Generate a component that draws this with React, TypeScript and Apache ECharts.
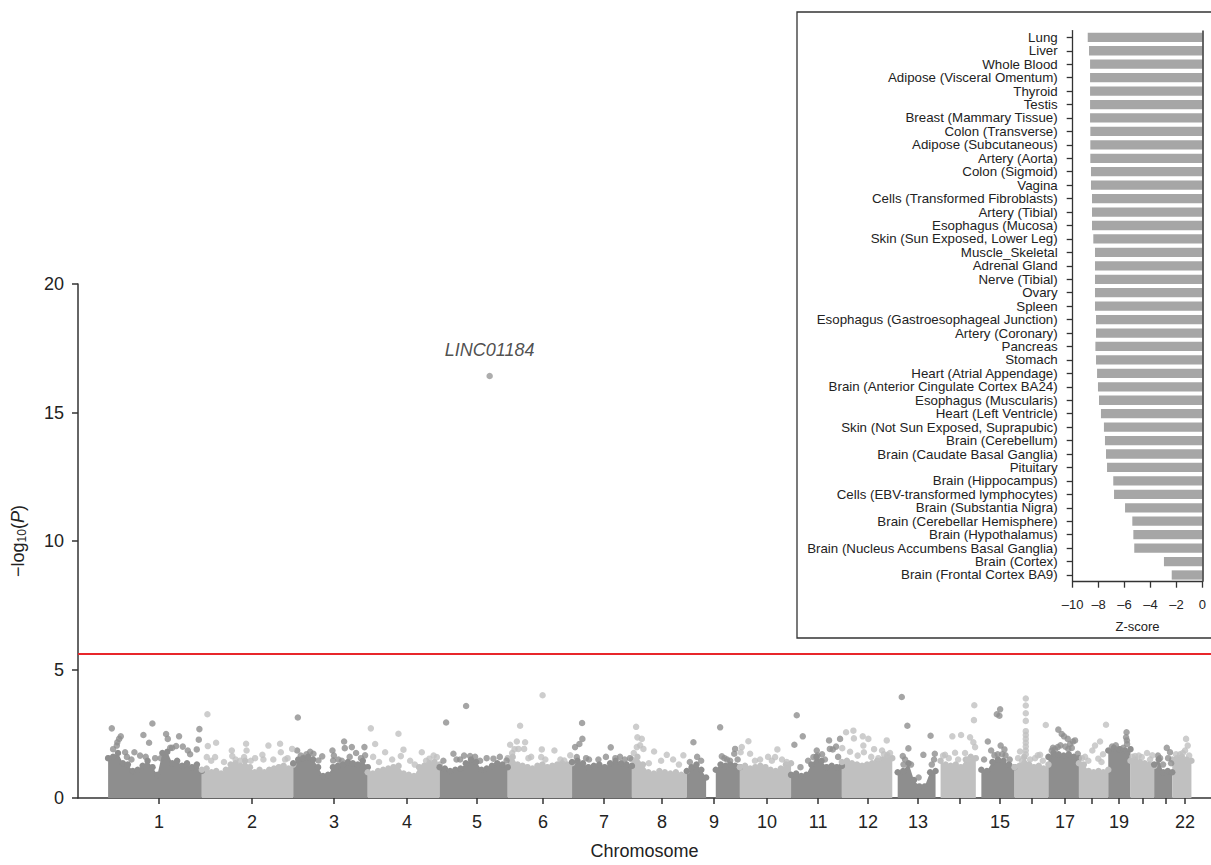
import React, { useEffect, useRef } from 'react';
import * as echarts from 'echarts';

// Chromosome lengths (Mb, hg19, rounded)
const chromLengths = [249, 243, 198, 191, 181, 171, 159, 146, 141, 136, 135, 134, 115, 107, 103, 90, 81, 78, 59, 63, 48, 51];
// Tick positions along the cumulative genome axis (Mb)
const chromTickPositions = [135.5, 382.7, 600.6, 794.6, 980.6, 1156, 1318, 1472.2, 1610.4, 1751.3, 1886.8, 2019.7, 2152.5, 2264.2, 2370.4, 2455.5, 2543.2, 2615, 2686.7, 2750.5, 2811.6, 2862.1];
const chromTickLabels = ['1', '2', '3', '4', '5', '6', '7', '8', '9', '10', '11', '12', '13', '14', '15', '16', '17', '18', '19', '20', '21', '22'];
const labelledChroms = ['1', '2', '3', '4', '5', '6', '7', '8', '9', '10', '11', '12', '13', '15', '17', '19', '22'];

// Upper edge of the dense cloud of SNPs per chromosome (-log10 P), equally spaced along each chromosome
const massTop: (number | null)[][] = [
  [1.55, 1.6, 1.75, 1.35, 1.3, 1.05, 1.1, 1.25, 1.45, 1.2, 0.9, 1.75, 1.8, 1.35, 1.45, 1.25, 1.35, 1.2, 1.3, 1.05],
  [1.1, 1.15, 1.0, 1.05, 0.95, 1.1, 1.3, 1.35, 1.25, 1.45, 1.2, 1.0, 1.1, 1.0, 1.1, 1.15, 1.2, 1.25, 1.15, 1.3],
  [1.35, 1.5, 1.55, 1.6, 1.5, 1.2, 0.85, 0.9, 1.2, 1.25, 1.3, 1.4, 1.35, 1.3, 1.45, 1.2],
  [1.0, 0.95, 1.05, 1.1, 1.15, 1.2, 1.25, 0.95, 0.9, 0.85, 1.2, 1.25, 1.35, 1.4, 1.3],
  [1.2, 1.15, 1.05, 1.1, 1.15, 1.35, 1.5, 1.4, 1.1, 1.15, 1.25, 1.35, 1.3, 1.2],
  [1.55, 1.6, 1.3, 1.25, 1.2, 1.15, 1.25, 1.3, 1.2, 1.25, 1.3, 1.35, 1.3, 1.35],
  [1.4, 1.45, 1.35, 1.2, 1.25, 1.3, 1.2, 1.35, 1.45, 1.35, 1.3, 1.25],
  [1.5, 1.6, 1.3, 1.0, 0.95, 1.05, 1.0, 0.95, 1.0, 0.9, 1.05],
  [1.05, 1.2, 1.3, 1.1, 0.8, null, 1.1, 1.3, 1.25, 1.3, 1.25, 1.2],
  [1.2, 1.25, 1.15, 1.2, 1.25, 1.2, 1.1, 1.05, 1.15, 1.3, 1.35],
  [0.9, 0.95, 0.85, 0.9, 1.3, 1.6, 1.45, 1.2, 1.25, 1.2, 1.25],
  [1.4, 1.45, 1.35, 1.3, 1.25, 1.3, 1.35, 1.45, 1.5, 1.6, 1.55],
  [null, 1.0, 1.05, 1.35, 0.7, 0.45, 0.45, 1.0, 1.05],
  [null, 1.45, 1.3, 1.25, 1.3, 1.2, 1.5, 1.6, 1.55],
  [null, 1.1, 1.05, 1.4, 1.5, 1.45, 1.3, 1.2],
  [1.2, 1.25, 1.6, 1.3, 1.2, 1.25, 1.15, 1.3],
  [1.6, 1.75, 1.7, 1.65, 1.7, 1.6, 1.55],
  [1.35, 1.3, 1.05, 1.0, 1.05, 1.0, 1.1],
  [1.85, 1.95, 1.9, 1.85, 1.9],
  [1.45, 1.5, 1.4, 1.35, 1.3, 1.25],
  [1.3, 1.5, 1.0, 1.05, 1.0],
  [1.5, 1.55, 1.6, 1.5, 1.45],
];

// Individual SNPs standing out above the cloud: [chromosome, position within chromosome (Mb), -log10 P]
const peakPoints: [number, number, number][] = [
  [1, 9.8, 2.71], [1, 33.7, 2.4], [1, 23.1, 2.04], [1, 29.2, 2.3], [1, 24.5, 2.17], [1, 13.3, 1.9], [1, 45.2, 1.78], [1, 69.9, 1.78],
  [1, 93.8, 2.45], [1, 108.9, 2.15], [1, 117.7, 2.9], [1, 85, 1.65], [1, 125, 1.55], [1, 154.1, 2.49], [1, 158.6, 2.3], [1, 188.6, 2.4],
  [1, 180.7, 2.02], [1, 198.5, 2.0], [1, 211.8, 1.85], [1, 242.6, 2.68], [1, 241, 2.27], [1, 235.6, 1.89], [1, 170, 1.95], [1, 218, 1.7],
  [1, 50, 1.6], [1, 62, 1.5], [1, 100, 1.6], [1, 140, 1.55], [1, 165, 1.95],
  [2, 14.9, 3.26], [2, 16, 2.02], [2, 38, 2.15], [2, 13.3, 1.59], [2, 35.3, 1.59], [2, 79.7, 1.85], [2, 81, 1.63], [2, 117.7, 2.11],
  [2, 119, 1.85], [2, 112.4, 1.59], [2, 141.6, 1.55], [2, 161, 1.68], [2, 163.7, 1.5], [2, 177, 2.04], [2, 208, 2.11], [2, 210, 1.78],
  [2, 221.3, 1.5], [2, 240, 1.91], [2, 101.8, 1.45], [2, 59, 1.4], [2, 25, 1.45], [2, 90, 1.5], [2, 130, 1.45], [2, 190, 1.5], [2, 228, 1.55],
  [3, 12.2, 3.13], [3, 10.4, 1.85], [3, 53.7, 1.72], [3, 67, 1.46], [3, 104.2, 1.85], [3, 106, 1.46], [3, 135.2, 2.2], [3, 137, 1.94],
  [3, 155.7, 1.98], [3, 189.2, 1.98], [3, 191, 1.66], [3, 129.1, 1.45], [3, 108, 1.65], [3, 45, 1.8], [3, 77, 1.62], [3, 167, 1.75],
  [3, 20, 1.65], [3, 35, 1.7], [3, 120, 1.5], [3, 150, 1.6], [3, 180, 1.55],
  [4, 8.2, 2.71], [4, 19.7, 2.1], [4, 46.2, 1.78], [4, 81.6, 2.5], [4, 94.9, 1.88], [4, 87.9, 1.63], [4, 143.7, 1.78], [4, 163.9, 1.53],
  [4, 183.6, 1.59], [4, 14.3, 1.6], [4, 112.7, 1.45], [4, 64.8, 1.5], [4, 30, 1.4], [4, 125, 1.3], [4, 155, 1.45], [4, 175, 1.65],
  [5, 17.3, 2.94], [5, 70.4, 3.58], [5, 36.7, 1.72], [5, 81, 1.63], [5, 143, 1.53], [5, 178, 1.46], [5, 54.5, 1.5], [5, 107.6, 1.45], [5, 94.3, 1.6],
  [5, 10, 1.45], [5, 45, 1.5], [5, 65, 1.65], [5, 125, 1.55], [5, 160, 1.6],
  [6, 92.7, 4.0], [6, 32.9, 2.81], [6, 6.4, 2.07], [6, 24.2, 2.2], [6, 46.2, 2.17], [6, 43.6, 1.91], [6, 28.4, 1.91], [6, 90.6, 1.89],
  [6, 89, 1.59], [6, 124.1, 1.85], [6, 166.1, 1.66], [6, 150.2, 1.46], [6, 11.7, 1.75], [6, 62.2, 1.6], [6, 18, 1.9], [6, 55, 1.55],
  [6, 100, 1.5], [6, 140, 1.5],
  [7, 26.6, 2.92], [7, 27.4, 2.3], [7, 19.4, 2.1], [7, 8, 1.98], [7, 12.5, 1.59], [7, 37.2, 1.55], [7, 102.8, 1.97], [7, 154, 1.55], [7, 127.5, 1.6],
  [7, 45, 1.5], [7, 70, 1.5], [7, 90, 1.6], [7, 115, 1.55], [7, 140, 1.5],
  [8, 11.2, 2.77], [8, 14.6, 2.36], [8, 26.3, 2.3], [8, 13, 1.98], [8, 30.6, 1.91], [8, 59, 1.81], [8, 92.7, 1.68], [8, 136.8, 1.66],
  [8, 21.8, 2.05], [8, 77.6, 1.45], [8, 109.5, 1.5], [8, 5, 1.75], [8, 45, 1.35], [8, 125, 1.3],
  [9, 17.5, 2.17], [9, 38, 1.45], [9, 88.5, 2.75], [9, 93, 1.62], [9, 128.3, 1.91], [9, 126, 1.72], [9, 27.4, 1.6], [9, 107, 1.5],
  [9, 8, 1.4], [9, 100, 1.55], [9, 115, 1.45], [9, 135, 1.5],
  [10, 22.6, 2.21], [10, 5, 1.98], [10, 2, 1.78], [10, 27.1, 1.72], [10, 99.6, 1.89], [10, 93.5, 1.59], [10, 124.6, 1.4], [10, 53.7, 1.5], [10, 74.9, 1.6],
  [10, 40, 1.45], [10, 85, 1.45], [10, 112, 1.5],
  [11, 15.1, 3.22], [11, 31.1, 2.4], [11, 8.8, 2.07], [11, 59.3, 1.59], [11, 68.3, 1.85], [11, 101, 2.24], [11, 103, 1.91], [11, 110.8, 1.89],
  [11, 130.2, 2.3], [11, 45.2, 1.45], [11, 82.4, 1.7], [11, 119.6, 2.0], [11, 25, 1.2], [11, 70, 1.65], [11, 90, 1.5], [11, 125, 1.6],
  [12, 11.2, 2.56], [12, 30.6, 2.62], [12, 32, 2.32], [12, 1, 1.94], [12, 55.5, 2.4], [12, 57.1, 2.04], [12, 58.5, 1.78], [12, 70.4, 2.3],
  [12, 119.3, 2.24], [12, 120.9, 1.68], [12, 97, 1.55], [12, 21.8, 1.8], [12, 85.6, 1.9], [12, 106.8, 1.85], [12, 42, 1.65], [12, 78, 1.6],
  [12, 112, 1.7], [12, 128, 1.75],
  [13, 25.2, 3.93], [13, 40.1, 2.81], [13, 42.8, 1.93], [13, 27.9, 1.63], [13, 82.6, 1.68], [13, 101.8, 2.42], [13, 113, 1.72], [13, 111, 1.5],
  [13, 34, 1.5], [13, 49.7, 1.3], [13, 30, 1.3], [13, 105, 1.3], [13, 70, 0.8],
  [14, 44.6, 2.4], [14, 67.8, 2.45], [14, 25.2, 1.68], [14, 51.8, 1.76], [14, 91.7, 2.36], [14, 100.4, 2.17], [14, 105, 1.98], [14, 103, 3.61],
  [14, 102, 3.03], [14, 78.4, 1.75], [14, 20, 1.65], [14, 35, 1.55], [14, 60, 1.5], [14, 85, 1.5],
  [15, 31.9, 2.2], [15, 55.8, 3.26], [15, 64.6, 3.45], [15, 62.7, 3.2], [15, 66, 2.04], [15, 76, 1.89], [15, 79, 1.66], [15, 49.4, 1.66],
  [15, 40.7, 1.85], [15, 22, 1.5], [15, 58, 1.7], [15, 70, 1.7], [15, 90, 1.5],
  [16, 29.8, 3.87], [16, 29.8, 3.6], [16, 29.8, 3.3], [16, 29.8, 3.0], [16, 29.8, 2.6], [16, 29.8, 2.45], [16, 29.8, 2.3], [16, 29.8, 2.15],
  [16, 29.8, 2.0], [16, 29.8, 1.85], [16, 29.8, 1.7], [16, 14.6, 1.81], [16, 67.8, 1.68], [16, 54.5, 1.55], [16, 82.9, 2.84], [16, 61.6, 1.66],
  [16, 41.2, 1.5], [16, 9.3, 1.55], [16, 20, 1.45], [16, 75, 1.45],
  [17, 26.3, 2.66], [17, 35.3, 2.49], [17, 51.3, 2.3], [17, 57.4, 2.1], [17, 70.7, 2.24], [17, 52.9, 1.91], [17, 8.8, 1.85], [17, 24.7, 1.98],
  [17, 77.9, 1.72], [17, 41.4, 2.4], [17, 65.4, 2.2], [17, 17.5, 1.9], [17, 12, 1.95], [17, 32, 2.05], [17, 45, 2.0], [17, 62, 1.95],
  [18, 72, 2.85], [18, 56.1, 2.2], [18, 42.8, 2.04], [18, 35.6, 1.85], [18, 51.5, 1.53], [18, 16.2, 1.6], [18, 64, 1.7],
  [18, 8, 1.55], [18, 25, 1.45], [18, 60, 1.4],
  [19, 48.6, 2.56], [19, 47.3, 2.36], [19, 49.5, 2.24], [19, 31.4, 1.89], [19, 50, 2.1], [19, 10, 2.0], [19, 20, 2.05], [19, 40, 1.95],
  [20, 12.2, 1.63], [20, 30, 1.59], [20, 58.2, 1.66], [20, 44, 1.75], [20, 5, 1.6], [20, 22, 1.65], [20, 52, 1.5],
  [21, 33.5, 1.95], [21, 42.2, 1.78], [21, 15.7, 1.55], [21, 37, 1.55], [21, 23.6, 1.3], [21, 10, 1.65], [21, 45, 1.35],
  [22, 36.7, 2.3], [22, 41.2, 2.04], [22, 34, 1.85], [22, 20.7, 1.7], [22, 10, 1.7], [22, 28, 1.75], [22, 45, 1.65],
];

const leadSnpChrom = 5;
const leadSnpPos = 133;
const leadSnpValue = 16.42;
const leadSnpGene = 'LINC01184';
const significanceLine = 5.63;

const tissues = [
  'Lung', 'Liver', 'Whole Blood', 'Adipose (Visceral Omentum)', 'Thyroid', 'Testis', 'Breast (Mammary Tissue)',
  'Colon (Transverse)', 'Adipose (Subcutaneous)', 'Artery (Aorta)', 'Colon (Sigmoid)', 'Vagina',
  'Cells (Transformed Fibroblasts)', 'Artery (Tibial)', 'Esophagus (Mucosa)', 'Skin (Sun Exposed, Lower Leg)',
  'Muscle_Skeletal', 'Adrenal Gland', 'Nerve (Tibial)', 'Ovary', 'Spleen', 'Esophagus (Gastroesophageal Junction)',
  'Artery (Coronary)', 'Pancreas', 'Stomach', 'Heart (Atrial Appendage)', 'Brain (Anterior Cingulate Cortex BA24)',
  'Esophagus (Muscularis)', 'Heart (Left Ventricle)', 'Skin (Not Sun Exposed, Suprapubic)', 'Brain (Cerebellum)',
  'Brain (Caudate Basal Ganglia)', 'Pituitary', 'Brain (Hippocampus)', 'Cells (EBV-transformed lymphocytes)',
  'Brain (Substantia Nigra)', 'Brain (Cerebellar Hemisphere)', 'Brain (Hypothalamus)',
  'Brain (Nucleus Accumbens Basal Ganglia)', 'Brain (Cortex)', 'Brain (Frontal Cortex BA9)',
];
const zScores = [
  -8.84, -8.74, -8.66, -8.66, -8.66, -8.66, -8.66, -8.64, -8.64, -8.64, -8.59, -8.59, -8.51, -8.51, -8.51, -8.41,
  -8.28, -8.28, -8.28, -8.28, -8.28, -8.2, -8.2, -8.25, -8.2, -8.12, -8.05, -7.97, -7.82, -7.59, -7.51, -7.43,
  -7.35, -6.87, -6.81, -5.96, -5.4, -5.32, -5.25, -2.96, -2.36,
];

const DARK = '#8e8e8e';
const LIGHT = '#c0c0c0';
const TEXT = '#222222';
const FONT = '"Liberation Sans", Arial, Helvetica, sans-serif';

export default function App() {
  const ref = useRef<HTMLDivElement>(null);

  useEffect(() => {
    if (!ref.current) return;
    const chart = echarts.init(ref.current, null, { renderer: 'svg' });

    const offsets: number[] = [];
    let acc = 0;
    chromLengths.forEach((l) => {
      offsets.push(acc);
      acc += l;
    });
    const colorOf = (chrom: number) => (chrom % 2 === 1 ? DARK : LIGHT);

    const massSeries = massTop.map((vals, i) => {
      const n = vals.length;
      const data = vals.map((v, j) => [offsets[i] + (chromLengths[i] * j) / (n - 1), v === null ? '-' : v]);
      return {
        type: 'line',
        xAxisIndex: 0,
        yAxisIndex: 0,
        data,
        symbol: 'circle',
        symbolSize: 6.5,
        showSymbol: true,
        connectNulls: false,
        itemStyle: { color: colorOf(i + 1) },
        lineStyle: { width: 0, color: colorOf(i + 1) },
        areaStyle: { color: colorOf(i + 1), opacity: 1 },
        silent: true,
        z: 2,
      };
    });

    const toPoint = (p: [number, number, number]) => [offsets[p[0] - 1] + p[1], p[2]];
    const darkPts = peakPoints.filter((p) => p[0] % 2 === 1).map(toPoint);
    const lightPts = peakPoints.filter((p) => p[0] % 2 === 0).map(toPoint);

    const labelFor = (v: number) => {
      const idx = chromTickPositions.findIndex((p) => Math.abs(p - v) < 1e-6);
      return idx >= 0 ? chromTickLabels[idx] : '';
    };
    const labelValues = chromTickPositions.filter((_, i) => labelledChroms.includes(chromTickLabels[i]));

    const option: any = {
      animation: false,
      backgroundColor: '#ffffff',
      textStyle: { fontFamily: FONT, color: TEXT },
      graphic: [
        {
          type: 'rect',
          shape: { x: 797, y: 12, width: 440, height: 626 },
          style: { fill: 'none', stroke: '#333333', lineWidth: 1.3 },
          silent: true,
          z: 0,
        },
      ],
      grid: [
        { left: 78, right: 0, top: 284, bottom: 62, containLabel: false },
        { left: 1072.7, right: 8.7, top: 30.6, bottom: 283.3, containLabel: false },
      ],
      xAxis: [
        {
          gridIndex: 0,
          type: 'value',
          min: -80,
          max: 2931,
          name: 'Chromosome',
          nameLocation: 'middle',
          nameGap: 44,
          nameTextStyle: { fontSize: 18, color: TEXT, fontFamily: FONT },
          axisLine: { show: true, onZero: false, lineStyle: { color: '#333333', width: 1.5 } },
          axisTick: { show: true, length: 6, customValues: chromTickPositions, lineStyle: { color: '#333333', width: 1.5 } },
          axisLabel: {
            show: true,
            customValues: labelValues,
            formatter: (v: number) => labelFor(v),
            fontSize: 18,
            margin: 15,
            color: TEXT,
            fontFamily: FONT,
          },
          splitLine: { show: false },
        },
        {
          gridIndex: 1,
          type: 'value',
          min: -10,
          max: 0,
          interval: 2,
          name: 'Z-score',
          nameLocation: 'middle',
          nameGap: 38,
          nameTextStyle: { fontSize: 13, color: TEXT, fontFamily: FONT },
          axisLine: { show: true, onZero: false, lineStyle: { color: '#333333', width: 1.3 } },
          axisTick: { show: true, length: 6, lineStyle: { color: '#333333', width: 1.3 } },
          axisLabel: {
            fontSize: 13,
            margin: 16,
            color: TEXT,
            fontFamily: FONT,
            formatter: (v: number) => (v < 0 ? '\u2013' + Math.abs(v) : String(v)),
          },
          splitLine: { show: false },
        },
      ],
      yAxis: [
        {
          gridIndex: 0,
          type: 'value',
          min: 0,
          max: 20,
          interval: 5,
          name: '{n|\u2212log}{s|10}{n|(}{i|P}{n|)}',
          nameLocation: 'middle',
          nameGap: 50,
          nameRotate: 90,
          nameTextStyle: {
            fontSize: 18,
            color: TEXT,
            fontFamily: FONT,
            rich: {
              n: { fontSize: 18, color: TEXT, fontFamily: FONT },
              s: { fontSize: 12, color: TEXT, fontFamily: FONT, verticalAlign: 'bottom', padding: [8, 0, 0, 0] },
              i: { fontSize: 18, color: TEXT, fontFamily: FONT, fontStyle: 'italic' },
            },
          },
          axisLine: { show: true, onZero: false, lineStyle: { color: '#333333', width: 1.5 } },
          axisTick: { show: true, length: 6, lineStyle: { color: '#333333', width: 1.5 } },
          axisLabel: { fontSize: 18, margin: 14, color: TEXT, fontFamily: FONT },
          splitLine: { show: false },
        },
        {
          gridIndex: 1,
          type: 'category',
          data: tissues,
          inverse: true,
          axisLine: { show: true, onZero: false, lineStyle: { color: '#333333', width: 1.3 } },
          axisTick: { show: true, alignWithLabel: true, length: 6, lineStyle: { color: '#333333', width: 1.3 } },
          axisLabel: { fontSize: 13.3, margin: 15, color: TEXT, fontFamily: FONT, interval: 0 },
          splitLine: { show: false },
        },
      ],
      series: [
        ...massSeries,
        {
          type: 'scatter',
          xAxisIndex: 0,
          yAxisIndex: 0,
          data: darkPts,
          symbolSize: 6.5,
          itemStyle: { color: DARK },
          silent: true,
          z: 3,
          markLine: {
            silent: true,
            symbol: 'none',
            label: { show: false },
            lineStyle: { color: '#e8262b', width: 2.2, type: 'solid' },
            data: [{ yAxis: significanceLine }],
          },
        },
        {
          type: 'scatter',
          xAxisIndex: 0,
          yAxisIndex: 0,
          data: lightPts,
          symbolSize: 6.5,
          itemStyle: { color: LIGHT },
          silent: true,
          z: 3,
        },
        {
          type: 'scatter',
          xAxisIndex: 0,
          yAxisIndex: 0,
          data: [[offsets[leadSnpChrom - 1] + leadSnpPos, leadSnpValue]],
          symbolSize: 6.5,
          itemStyle: { color: '#999999' },
          silent: true,
          z: 4,
          label: {
            show: true,
            position: 'top',
            distance: 14,
            formatter: leadSnpGene,
            fontSize: 18,
            fontStyle: 'italic',
            color: TEXT,
            fontFamily: FONT,
          },
        },
        {
          type: 'bar',
          xAxisIndex: 1,
          yAxisIndex: 1,
          data: zScores,
          barCategoryGap: '31%',
          itemStyle: { color: '#a6a6a6' },
          silent: true,
          markLine: {
            silent: true,
            symbol: 'none',
            label: { show: false },
            lineStyle: { color: '#333333', width: 1.5, type: 'solid' },
            data: [{ xAxis: 0 }],
          },
        },
      ],
    };

    chart.setOption(option);
    return () => chart.dispose();
  }, []);

  return (
    <div
      ref={ref}
      style={{ position: 'fixed', left: 0, top: 0, width: 1211, height: 865, background: '#ffffff' }}
    />
  );
}
